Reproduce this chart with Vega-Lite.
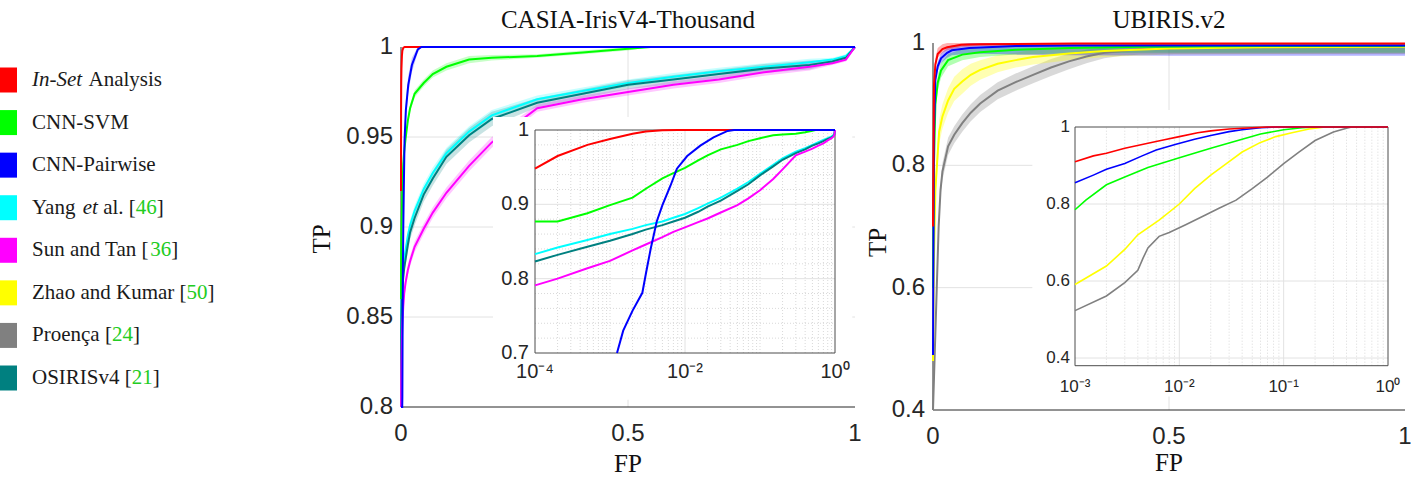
{
  "$schema": "https://vega.github.io/schema/vega-lite/v6.json",
  "width": 1411,
  "height": 480,
  "autosize": {"type": "none"},
  "padding": 0,
  "background": "white",
  "config": {"view": {"stroke": null}, "font": "Liberation Sans", "axis": {"disable": true}},
  "datasets": {
    "legendRows": [
      {"k": 1, "m": "I"}, {"k": 2, "m": "S"}, {"k": 3, "m": "P"}, {"k": 4, "m": "Y"},
      {"k": 5, "m": "T"}, {"k": 6, "m": "Z"}, {"k": 7, "m": "R"}, {"k": 8, "m": "O"}
    ],
    "casia": [
      {"m":"Y","fp":0,"tp":0.75,"lo":0.747,"hi":0.753},
      {"m":"Y","fp":1e-4,"tp":0.833,"lo":0.83,"hi":0.836},
      {"m":"Y","fp":2e-4,"tp":0.842,"lo":0.839,"hi":0.845},
      {"m":"Y","fp":5e-4,"tp":0.852,"lo":0.849,"hi":0.855},
      {"m":"Y","fp":1e-3,"tp":0.86,"lo":0.857,"hi":0.863},
      {"m":"Y","fp":2e-3,"tp":0.867,"lo":0.864,"hi":0.87},
      {"m":"Y","fp":3e-3,"tp":0.872,"lo":0.869,"hi":0.875},
      {"m":"Y","fp":5e-3,"tp":0.877,"lo":0.874,"hi":0.88},
      {"m":"Y","fp":7e-3,"tp":0.882,"lo":0.879,"hi":0.885},
      {"m":"Y","fp":0.01,"tp":0.887,"lo":0.884,"hi":0.89},
      {"m":"Y","fp":0.015,"tp":0.895,"lo":0.892,"hi":0.898},
      {"m":"Y","fp":0.02,"tp":0.901,"lo":0.898,"hi":0.904},
      {"m":"Y","fp":0.03,"tp":0.909,"lo":0.906,"hi":0.912},
      {"m":"Y","fp":0.05,"tp":0.921,"lo":0.918,"hi":0.924},
      {"m":"Y","fp":0.07,"tp":0.93,"lo":0.927,"hi":0.933},
      {"m":"Y","fp":0.1,"tp":0.941,"lo":0.938,"hi":0.944},
      {"m":"Y","fp":0.15,"tp":0.953,"lo":0.95,"hi":0.956},
      {"m":"Y","fp":0.2,"tp":0.962,"lo":0.959,"hi":0.965},
      {"m":"Y","fp":0.3,"tp":0.971,"lo":0.969,"hi":0.973},
      {"m":"Y","fp":0.4,"tp":0.9755,"lo":0.9735,"hi":0.9775},
      {"m":"Y","fp":0.5,"tp":0.98,"lo":0.978,"hi":0.982},
      {"m":"Y","fp":0.6,"tp":0.9835,"lo":0.9815,"hi":0.9855},
      {"m":"Y","fp":0.7,"tp":0.9865,"lo":0.9845,"hi":0.9885},
      {"m":"Y","fp":0.8,"tp":0.989,"lo":0.987,"hi":0.991},
      {"m":"Y","fp":0.9,"tp":0.9915,"lo":0.9895,"hi":0.9935},
      {"m":"Y","fp":0.95,"tp":0.993,"lo":0.992,"hi":0.994},
      {"m":"Y","fp":0.98,"tp":0.995,"lo":0.994,"hi":0.996},
      {"m":"Y","fp":1,"tp":1,"lo":1,"hi":1},

      {"m":"O","fp":0,"tp":0.75,"lo":0.746,"hi":0.754},
      {"m":"O","fp":1e-4,"tp":0.823,"lo":0.819,"hi":0.827},
      {"m":"O","fp":2e-4,"tp":0.832,"lo":0.828,"hi":0.836},
      {"m":"O","fp":5e-4,"tp":0.843,"lo":0.839,"hi":0.847},
      {"m":"O","fp":1e-3,"tp":0.851,"lo":0.847,"hi":0.855},
      {"m":"O","fp":2e-3,"tp":0.86,"lo":0.856,"hi":0.864},
      {"m":"O","fp":3e-3,"tp":0.866,"lo":0.862,"hi":0.87},
      {"m":"O","fp":5e-3,"tp":0.872,"lo":0.868,"hi":0.876},
      {"m":"O","fp":7e-3,"tp":0.877,"lo":0.873,"hi":0.881},
      {"m":"O","fp":0.01,"tp":0.882,"lo":0.878,"hi":0.886},
      {"m":"O","fp":0.015,"tp":0.89,"lo":0.886,"hi":0.894},
      {"m":"O","fp":0.02,"tp":0.897,"lo":0.893,"hi":0.901},
      {"m":"O","fp":0.03,"tp":0.905,"lo":0.901,"hi":0.909},
      {"m":"O","fp":0.05,"tp":0.918,"lo":0.914,"hi":0.922},
      {"m":"O","fp":0.07,"tp":0.927,"lo":0.923,"hi":0.931},
      {"m":"O","fp":0.1,"tp":0.939,"lo":0.935,"hi":0.943},
      {"m":"O","fp":0.15,"tp":0.951,"lo":0.947,"hi":0.955},
      {"m":"O","fp":0.2,"tp":0.96,"lo":0.956,"hi":0.964},
      {"m":"O","fp":0.3,"tp":0.969,"lo":0.9665,"hi":0.9715},
      {"m":"O","fp":0.4,"tp":0.974,"lo":0.9715,"hi":0.9765},
      {"m":"O","fp":0.5,"tp":0.979,"lo":0.9765,"hi":0.9815},
      {"m":"O","fp":0.6,"tp":0.982,"lo":0.9795,"hi":0.9845},
      {"m":"O","fp":0.7,"tp":0.985,"lo":0.9825,"hi":0.9875},
      {"m":"O","fp":0.8,"tp":0.988,"lo":0.9855,"hi":0.9905},
      {"m":"O","fp":0.9,"tp":0.99,"lo":0.9875,"hi":0.9925},
      {"m":"O","fp":0.95,"tp":0.992,"lo":0.991,"hi":0.993},
      {"m":"O","fp":0.98,"tp":0.994,"lo":0.993,"hi":0.995},
      {"m":"O","fp":1,"tp":1,"lo":1,"hi":1},

      {"m":"T","fp":0,"tp":0.7,"lo":0.697,"hi":0.703},
      {"m":"T","fp":1e-4,"tp":0.791,"lo":0.788,"hi":0.794},
      {"m":"T","fp":2e-4,"tp":0.8,"lo":0.797,"hi":0.803},
      {"m":"T","fp":5e-4,"tp":0.814,"lo":0.811,"hi":0.817},
      {"m":"T","fp":1e-3,"tp":0.824,"lo":0.821,"hi":0.827},
      {"m":"T","fp":2e-3,"tp":0.838,"lo":0.835,"hi":0.841},
      {"m":"T","fp":3e-3,"tp":0.846,"lo":0.843,"hi":0.849},
      {"m":"T","fp":5e-3,"tp":0.856,"lo":0.853,"hi":0.859},
      {"m":"T","fp":7e-3,"tp":0.863,"lo":0.86,"hi":0.866},
      {"m":"T","fp":0.01,"tp":0.869,"lo":0.866,"hi":0.872},
      {"m":"T","fp":0.015,"tp":0.876,"lo":0.873,"hi":0.879},
      {"m":"T","fp":0.02,"tp":0.881,"lo":0.878,"hi":0.884},
      {"m":"T","fp":0.03,"tp":0.889,"lo":0.886,"hi":0.892},
      {"m":"T","fp":0.05,"tp":0.899,"lo":0.896,"hi":0.902},
      {"m":"T","fp":0.07,"tp":0.908,"lo":0.905,"hi":0.911},
      {"m":"T","fp":0.1,"tp":0.919,"lo":0.916,"hi":0.922},
      {"m":"T","fp":0.15,"tp":0.934,"lo":0.931,"hi":0.937},
      {"m":"T","fp":0.2,"tp":0.947,"lo":0.944,"hi":0.95},
      {"m":"T","fp":0.3,"tp":0.966,"lo":0.964,"hi":0.968},
      {"m":"T","fp":0.4,"tp":0.971,"lo":0.969,"hi":0.973},
      {"m":"T","fp":0.5,"tp":0.975,"lo":0.973,"hi":0.977},
      {"m":"T","fp":0.6,"tp":0.979,"lo":0.977,"hi":0.981},
      {"m":"T","fp":0.7,"tp":0.982,"lo":0.98,"hi":0.984},
      {"m":"T","fp":0.8,"tp":0.986,"lo":0.984,"hi":0.988},
      {"m":"T","fp":0.9,"tp":0.989,"lo":0.987,"hi":0.991},
      {"m":"T","fp":0.95,"tp":0.991,"lo":0.99,"hi":0.992},
      {"m":"T","fp":0.98,"tp":0.993,"lo":0.992,"hi":0.994},
      {"m":"T","fp":1,"tp":1,"lo":1,"hi":1},

      {"m":"S","fp":0,"tp":0.86,"lo":0.858,"hi":0.862},
      {"m":"S","fp":1e-4,"tp":0.877,"lo":0.875,"hi":0.879},
      {"m":"S","fp":2e-4,"tp":0.877,"lo":0.875,"hi":0.879},
      {"m":"S","fp":5e-4,"tp":0.888,"lo":0.886,"hi":0.89},
      {"m":"S","fp":1e-3,"tp":0.899,"lo":0.897,"hi":0.901},
      {"m":"S","fp":2e-3,"tp":0.909,"lo":0.907,"hi":0.911},
      {"m":"S","fp":3e-3,"tp":0.921,"lo":0.919,"hi":0.923},
      {"m":"S","fp":5e-3,"tp":0.935,"lo":0.933,"hi":0.937},
      {"m":"S","fp":7e-3,"tp":0.942,"lo":0.94,"hi":0.944},
      {"m":"S","fp":0.01,"tp":0.949,"lo":0.947,"hi":0.951},
      {"m":"S","fp":0.015,"tp":0.959,"lo":0.957,"hi":0.961},
      {"m":"S","fp":0.02,"tp":0.966,"lo":0.964,"hi":0.968},
      {"m":"S","fp":0.03,"tp":0.974,"lo":0.972,"hi":0.976},
      {"m":"S","fp":0.05,"tp":0.98,"lo":0.978,"hi":0.982},
      {"m":"S","fp":0.07,"tp":0.985,"lo":0.983,"hi":0.987},
      {"m":"S","fp":0.1,"tp":0.989,"lo":0.987,"hi":0.991},
      {"m":"S","fp":0.15,"tp":0.993,"lo":0.991,"hi":0.995},
      {"m":"S","fp":0.2,"tp":0.994,"lo":0.9925,"hi":0.9955},
      {"m":"S","fp":0.3,"tp":0.995,"lo":0.994,"hi":0.996},
      {"m":"S","fp":0.4,"tp":0.997,"lo":0.996,"hi":0.998},
      {"m":"S","fp":0.5,"tp":0.999,"lo":0.998,"hi":1},
      {"m":"S","fp":0.55,"tp":1,"lo":1,"hi":1},
      {"m":"S","fp":1,"tp":1,"lo":1,"hi":1},

      {"m":"I","fp":0,"tp":0.92,"lo":0.91,"hi":0.93},
      {"m":"I","fp":1e-4,"tp":0.948,"lo":0.94,"hi":0.956},
      {"m":"I","fp":2e-4,"tp":0.965,"lo":0.958,"hi":0.972},
      {"m":"I","fp":5e-4,"tp":0.98,"lo":0.975,"hi":0.985},
      {"m":"I","fp":1e-3,"tp":0.988,"lo":0.984,"hi":0.992},
      {"m":"I","fp":2e-3,"tp":0.995,"lo":0.992,"hi":0.998},
      {"m":"I","fp":3e-3,"tp":0.998,"lo":0.996,"hi":1},
      {"m":"I","fp":5e-3,"tp":0.9995,"lo":0.999,"hi":1},
      {"m":"I","fp":8e-3,"tp":1,"lo":1,"hi":1},
      {"m":"I","fp":1,"tp":1,"lo":1,"hi":1},

      {"m":"P","fp":0,"tp":0.45,"lo":0.44,"hi":0.46},
      {"m":"P","fp":1e-4,"tp":0.5,"lo":0.49,"hi":0.51},
      {"m":"P","fp":5e-4,"tp":0.62,"lo":0.61,"hi":0.63},
      {"m":"P","fp":1.24e-3,"tp":0.7,"lo":0.69,"hi":0.71},
      {"m":"P","fp":1.5e-3,"tp":0.73,"lo":0.72,"hi":0.74},
      {"m":"P","fp":2e-3,"tp":0.757,"lo":0.747,"hi":0.767},
      {"m":"P","fp":2.7e-3,"tp":0.781,"lo":0.771,"hi":0.791},
      {"m":"P","fp":3e-3,"tp":0.806,"lo":0.796,"hi":0.816},
      {"m":"P","fp":3.5e-3,"tp":0.841,"lo":0.831,"hi":0.851},
      {"m":"P","fp":4.2e-3,"tp":0.877,"lo":0.867,"hi":0.887},
      {"m":"P","fp":5e-3,"tp":0.899,"lo":0.889,"hi":0.909},
      {"m":"P","fp":6.4e-3,"tp":0.925,"lo":0.917,"hi":0.933},
      {"m":"P","fp":7.8e-3,"tp":0.948,"lo":0.941,"hi":0.955},
      {"m":"P","fp":0.0107,"tp":0.965,"lo":0.959,"hi":0.971},
      {"m":"P","fp":0.016,"tp":0.979,"lo":0.974,"hi":0.984},
      {"m":"P","fp":0.024,"tp":0.99,"lo":0.986,"hi":0.994},
      {"m":"P","fp":0.037,"tp":0.9987,"lo":0.997,"hi":1},
      {"m":"P","fp":0.045,"tp":1,"lo":1,"hi":1},
      {"m":"P","fp":1,"tp":1,"lo":1,"hi":1}
    ],
    "ubMain": [
      {"m":"R","fp":0,"tp":0.4,"lo":0.39,"hi":0.41},
      {"m":"R","fp":0.004,"tp":0.5,"lo":0.49,"hi":0.51},
      {"m":"R","fp":0.008,"tp":0.6,"lo":0.59,"hi":0.61},
      {"m":"R","fp":0.012,"tp":0.7,"lo":0.69,"hi":0.71},
      {"m":"R","fp":0.016,"tp":0.76,"lo":0.75,"hi":0.77},
      {"m":"R","fp":0.02,"tp":0.79,"lo":0.776,"hi":0.804},
      {"m":"R","fp":0.032,"tp":0.831,"lo":0.817,"hi":0.845},
      {"m":"R","fp":0.045,"tp":0.85,"lo":0.836,"hi":0.864},
      {"m":"R","fp":0.062,"tp":0.869,"lo":0.855,"hi":0.883},
      {"m":"R","fp":0.08,"tp":0.886,"lo":0.872,"hi":0.9},
      {"m":"R","fp":0.1,"tp":0.901,"lo":0.887,"hi":0.915},
      {"m":"R","fp":0.137,"tp":0.922,"lo":0.908,"hi":0.936},
      {"m":"R","fp":0.175,"tp":0.936,"lo":0.922,"hi":0.95},
      {"m":"R","fp":0.212,"tp":0.948,"lo":0.934,"hi":0.962},
      {"m":"R","fp":0.25,"tp":0.96,"lo":0.946,"hi":0.974},
      {"m":"R","fp":0.288,"tp":0.97,"lo":0.957,"hi":0.983},
      {"m":"R","fp":0.325,"tp":0.978,"lo":0.967,"hi":0.989},
      {"m":"R","fp":0.363,"tp":0.984,"lo":0.975,"hi":0.993},
      {"m":"R","fp":0.4,"tp":0.987,"lo":0.979,"hi":0.995},
      {"m":"R","fp":0.44,"tp":0.99,"lo":0.981,"hi":0.998},
      {"m":"R","fp":0.513,"tp":0.992,"lo":0.982,"hi":1},
      {"m":"R","fp":0.7,"tp":0.993,"lo":0.982,"hi":1},
      {"m":"R","fp":1,"tp":0.994,"lo":0.982,"hi":1},

      {"m":"Z","fp":0,"tp":0.48,"lo":0.47,"hi":0.49},
      {"m":"Z","fp":0.002,"tp":0.65,"lo":0.63,"hi":0.67},
      {"m":"Z","fp":0.005,"tp":0.76,"lo":0.74,"hi":0.78},
      {"m":"Z","fp":0.01,"tp":0.82,"lo":0.8,"hi":0.84},
      {"m":"Z","fp":0.013,"tp":0.855,"lo":0.835,"hi":0.875},
      {"m":"Z","fp":0.02,"tp":0.88,"lo":0.86,"hi":0.9},
      {"m":"Z","fp":0.032,"tp":0.906,"lo":0.886,"hi":0.926},
      {"m":"Z","fp":0.045,"tp":0.925,"lo":0.905,"hi":0.945},
      {"m":"Z","fp":0.062,"tp":0.937,"lo":0.917,"hi":0.957},
      {"m":"Z","fp":0.08,"tp":0.948,"lo":0.93,"hi":0.966},
      {"m":"Z","fp":0.1,"tp":0.956,"lo":0.94,"hi":0.972},
      {"m":"Z","fp":0.137,"tp":0.966,"lo":0.952,"hi":0.98},
      {"m":"Z","fp":0.175,"tp":0.972,"lo":0.96,"hi":0.984},
      {"m":"Z","fp":0.212,"tp":0.977,"lo":0.965,"hi":0.989},
      {"m":"Z","fp":0.288,"tp":0.983,"lo":0.972,"hi":0.994},
      {"m":"Z","fp":0.363,"tp":0.987,"lo":0.977,"hi":0.997},
      {"m":"Z","fp":0.5,"tp":0.991,"lo":0.981,"hi":1},
      {"m":"Z","fp":0.7,"tp":0.993,"lo":0.982,"hi":1},
      {"m":"Z","fp":1,"tp":0.994,"lo":0.983,"hi":1},

      {"m":"S","fp":0,"tp":0.6,"lo":0.59,"hi":0.61},
      {"m":"S","fp":0.002,"tp":0.8,"lo":0.79,"hi":0.81},
      {"m":"S","fp":0.005,"tp":0.9,"lo":0.89,"hi":0.91},
      {"m":"S","fp":0.01,"tp":0.935,"lo":0.922,"hi":0.948},
      {"m":"S","fp":0.017,"tp":0.955,"lo":0.943,"hi":0.967},
      {"m":"S","fp":0.032,"tp":0.972,"lo":0.962,"hi":0.982},
      {"m":"S","fp":0.062,"tp":0.981,"lo":0.972,"hi":0.99},
      {"m":"S","fp":0.1,"tp":0.985,"lo":0.977,"hi":0.993},
      {"m":"S","fp":0.175,"tp":0.989,"lo":0.981,"hi":0.997},
      {"m":"S","fp":0.29,"tp":0.992,"lo":0.983,"hi":1},
      {"m":"S","fp":0.44,"tp":0.994,"lo":0.984,"hi":1},
      {"m":"S","fp":0.7,"tp":0.995,"lo":0.984,"hi":1},
      {"m":"S","fp":1,"tp":0.995,"lo":0.984,"hi":1},

      {"m":"P","fp":0,"tp":0.49,"lo":0.48,"hi":0.5},
      {"m":"P","fp":0.002,"tp":0.85,"lo":0.84,"hi":0.86},
      {"m":"P","fp":0.005,"tp":0.94,"lo":0.932,"hi":0.948},
      {"m":"P","fp":0.01,"tp":0.962,"lo":0.954,"hi":0.97},
      {"m":"P","fp":0.017,"tp":0.975,"lo":0.967,"hi":0.983},
      {"m":"P","fp":0.03,"tp":0.984,"lo":0.976,"hi":0.992},
      {"m":"P","fp":0.04,"tp":0.988,"lo":0.98,"hi":0.996},
      {"m":"P","fp":0.077,"tp":0.992,"lo":0.983,"hi":1},
      {"m":"P","fp":0.175,"tp":0.995,"lo":0.981,"hi":1},
      {"m":"P","fp":0.3,"tp":0.996,"lo":0.98,"hi":1},
      {"m":"P","fp":0.5,"tp":0.996,"lo":0.979,"hi":1},
      {"m":"P","fp":1,"tp":0.996,"lo":0.979,"hi":1},

      {"m":"I","fp":0,"tp":0.7,"lo":0.69,"hi":0.71},
      {"m":"I","fp":0.002,"tp":0.93,"lo":0.925,"hi":0.935},
      {"m":"I","fp":0.005,"tp":0.965,"lo":0.96,"hi":0.975},
      {"m":"I","fp":0.01,"tp":0.982,"lo":0.976,"hi":0.992},
      {"m":"I","fp":0.02,"tp":0.99,"lo":0.984,"hi":0.998},
      {"m":"I","fp":0.03,"tp":0.993,"lo":0.988,"hi":1},
      {"m":"I","fp":0.06,"tp":0.997,"lo":0.993,"hi":1},
      {"m":"I","fp":0.1,"tp":0.998,"lo":0.995,"hi":1},
      {"m":"I","fp":0.3,"tp":0.999,"lo":0.997,"hi":1},
      {"m":"I","fp":1,"tp":0.999,"lo":0.997,"hi":1}
    ],
    "ubInset": [
      {"m":"R","fp":0.001,"tp":0.523},{"m":"R","fp":0.002,"tp":0.561},{"m":"R","fp":0.003,"tp":0.596},
      {"m":"R","fp":0.004,"tp":0.628},{"m":"R","fp":0.0045,"tp":0.66},{"m":"R","fp":0.005,"tp":0.686},
      {"m":"R","fp":0.0064,"tp":0.716},{"m":"R","fp":0.008,"tp":0.726},{"m":"R","fp":0.0115,"tp":0.746},
      {"m":"R","fp":0.018,"tp":0.772},{"m":"R","fp":0.024,"tp":0.789},{"m":"R","fp":0.035,"tp":0.81},
      {"m":"R","fp":0.05,"tp":0.84},{"m":"R","fp":0.07,"tp":0.87},{"m":"R","fp":0.1,"tp":0.905},
      {"m":"R","fp":0.14,"tp":0.935},{"m":"R","fp":0.2,"tp":0.965},{"m":"R","fp":0.3,"tp":0.987},
      {"m":"R","fp":0.4,"tp":0.997},{"m":"R","fp":0.45,"tp":1},{"m":"R","fp":1,"tp":1},

      {"m":"Z","fp":0.001,"tp":0.591},{"m":"Z","fp":0.002,"tp":0.639},{"m":"Z","fp":0.003,"tp":0.682},
      {"m":"Z","fp":0.004,"tp":0.72},{"m":"Z","fp":0.0064,"tp":0.758},{"m":"Z","fp":0.01,"tp":0.8},
      {"m":"Z","fp":0.014,"tp":0.84},{"m":"Z","fp":0.02,"tp":0.875},{"m":"Z","fp":0.03,"tp":0.91},
      {"m":"Z","fp":0.04,"tp":0.935},{"m":"Z","fp":0.06,"tp":0.96},{"m":"Z","fp":0.084,"tp":0.975},
      {"m":"Z","fp":0.12,"tp":0.985},{"m":"Z","fp":0.175,"tp":0.995},{"m":"Z","fp":0.25,"tp":1},
      {"m":"Z","fp":1,"tp":1},

      {"m":"S","fp":0.001,"tp":0.785},{"m":"S","fp":0.00127,"tp":0.81},{"m":"S","fp":0.002,"tp":0.85},
      {"m":"S","fp":0.003,"tp":0.87},{"m":"S","fp":0.005,"tp":0.895},{"m":"S","fp":0.01,"tp":0.92},
      {"m":"S","fp":0.02,"tp":0.945},{"m":"S","fp":0.04,"tp":0.968},{"m":"S","fp":0.06,"tp":0.982},
      {"m":"S","fp":0.1,"tp":0.993},{"m":"S","fp":0.15,"tp":0.998},{"m":"S","fp":0.2,"tp":1},
      {"m":"S","fp":1,"tp":1},

      {"m":"P","fp":0.001,"tp":0.855},{"m":"P","fp":0.0015,"tp":0.875},{"m":"P","fp":0.002,"tp":0.89},
      {"m":"P","fp":0.003,"tp":0.905},{"m":"P","fp":0.0044,"tp":0.925},{"m":"P","fp":0.006,"tp":0.94},
      {"m":"P","fp":0.0093,"tp":0.955},{"m":"P","fp":0.014,"tp":0.968},{"m":"P","fp":0.02,"tp":0.978},
      {"m":"P","fp":0.03,"tp":0.988},{"m":"P","fp":0.04,"tp":0.993},{"m":"P","fp":0.06,"tp":0.998},
      {"m":"P","fp":0.086,"tp":1},{"m":"P","fp":1,"tp":1},

      {"m":"I","fp":0.001,"tp":0.91},{"m":"I","fp":0.0015,"tp":0.925},{"m":"I","fp":0.002,"tp":0.932},
      {"m":"I","fp":0.003,"tp":0.945},{"m":"I","fp":0.005,"tp":0.958},{"m":"I","fp":0.007,"tp":0.966},
      {"m":"I","fp":0.01,"tp":0.975},{"m":"I","fp":0.015,"tp":0.985},{"m":"I","fp":0.02,"tp":0.99},
      {"m":"I","fp":0.03,"tp":0.995},{"m":"I","fp":0.05,"tp":0.998},{"m":"I","fp":0.07,"tp":1},
      {"m":"I","fp":1,"tp":1}
    ],
    "casiaTicksX": [{"v": 0}, {"v": 0.5}, {"v": 1}],
    "casiaTicksY": [{"v": 0.8}, {"v": 0.85}, {"v": 0.9}, {"v": 0.95}, {"v": 1}],
    "ubTicksX": [{"v": 0}, {"v": 0.5}, {"v": 1}],
    "ubTicksY": [{"v": 0.4}, {"v": 0.6}, {"v": 0.8}, {"v": 1}],
    "ciTicksX": [{"v": 0.0001, "t": "10⁻⁴"}, {"v": 0.01, "t": "10⁻²"}, {"v": 1, "t": "10⁰"}],
    "ciTicksY": [{"v": 0.7}, {"v": 0.8}, {"v": 0.9}, {"v": 1}],
    "uiTicksX": [{"v": 0.001, "t": "10⁻³"}, {"v": 0.01, "t": "10⁻²"}, {"v": 0.1, "t": "10⁻¹"}, {"v": 1, "t": "10⁰"}],
    "uiTicksY": [{"v": 0.4}, {"v": 0.6}, {"v": 0.8}, {"v": 1}],
    "casiaGridX": [{"v": 0.5}],
    "casiaGridY": [{"v": 0.85}, {"v": 0.9}, {"v": 0.95}],
    "ubGridX": [{"v": 0.5}],
    "ubGridY": [{"v": 0.6}, {"v": 0.8}],
    "ciMajX": [{"v": 0.01}],
    "ciMajY": [{"v": 0.8}, {"v": 0.9}],
    "ciMinX": [
      {"v":2e-4},{"v":3e-4},{"v":4e-4},{"v":5e-4},{"v":6e-4},{"v":7e-4},{"v":8e-4},{"v":9e-4},{"v":1e-3},
      {"v":2e-3},{"v":3e-3},{"v":4e-3},{"v":5e-3},{"v":6e-3},{"v":7e-3},{"v":8e-3},{"v":9e-3},
      {"v":0.02},{"v":0.03},{"v":0.04},{"v":0.05},{"v":0.06},{"v":0.07},{"v":0.08},{"v":0.09},{"v":0.1},
      {"v":0.2},{"v":0.3},{"v":0.4},{"v":0.5},{"v":0.6},{"v":0.7},{"v":0.8},{"v":0.9}
    ],
    "ciMinY": [
      {"v":0.72},{"v":0.74},{"v":0.76},{"v":0.78},{"v":0.82},{"v":0.84},
      {"v":0.86},{"v":0.88},{"v":0.92},{"v":0.94},{"v":0.96},{"v":0.98}
    ],
    "uiMajX": [{"v": 0.01}, {"v": 0.1}],
    "uiMajY": [{"v": 0.4}, {"v": 0.6}, {"v": 0.8}],
    "uiMinX": [
      {"v":2e-3},{"v":3e-3},{"v":4e-3},{"v":5e-3},{"v":6e-3},{"v":7e-3},{"v":8e-3},{"v":9e-3},
      {"v":0.02},{"v":0.03},{"v":0.04},{"v":0.05},{"v":0.06},{"v":0.07},{"v":0.08},{"v":0.09},
      {"v":0.2},{"v":0.3},{"v":0.4},{"v":0.5},{"v":0.6},{"v":0.7},{"v":0.8},{"v":0.9}
    ]
  },
  "resolve": {
    "scale": {"x": "independent", "y": "independent"},
    "axis": {"x": "independent", "y": "independent"}
  },
  "layer": [
    {
      "layer": [
        {
          "data": {"name": "legendRows"},
          "mark": {"type": "point", "shape": "square", "filled": true, "size": 625, "opacity": 1},
          "encoding": {
            "x": {"datum": 0, "scale": {"domain": [0, 1], "range": [4.5, 32]}, "axis": null},
            "y": {"field": "k", "type": "quantitative", "scale": {"domain": [1, 8], "range": [80, 378], "zero": false, "nice": false}, "axis": null},
            "color": {"field": "m", "type": "nominal", "legend": null,
              "scale": {"domain": ["I","S","P","Y","T","Z","R","O"], "range": ["#ff0000","#00ff00","#0000ff","#00ffff","#ff00ff","#ffff00","#808080","#008080"]}}
          }
        },
        {
          "data": {"values": [
            {"k": 2, "t": "CNN-SVM"}, {"k": 3, "t": "CNN-Pairwise"}, {"k": 4, "t": "Yang"},
            {"k": 5, "t": "Sun and Tan ["}, {"k": 6, "t": "Zhao and Kumar ["}, {"k": 7, "t": "Proença ["}, {"k": 8, "t": "OSIRISv4 ["}
          ]},
          "mark": {"type": "text", "font": "Liberation Serif", "fontSize": 21, "align": "left", "baseline": "middle", "color": "#1a1a1a"},
          "encoding": {"x": {"datum": 1, "axis": null}, "y": {"field": "k", "type": "quantitative", "axis": null}, "text": {"field": "t"}}
        },
        {
          "data": {"values": [{"k": 1, "t": "In-Set"}]},
          "mark": {"type": "text", "font": "Liberation Serif", "fontStyle": "italic", "fontSize": 21, "align": "left", "baseline": "middle", "color": "#1a1a1a"},
          "encoding": {"x": {"datum": 1, "axis": null}, "y": {"field": "k", "type": "quantitative", "axis": null}, "text": {"field": "t"}}
        },
        {
          "data": {"values": [{"k": 1, "t": "Analysis"}]},
          "mark": {"type": "text", "font": "Liberation Serif", "fontSize": 21, "align": "left", "baseline": "middle", "color": "#1a1a1a", "dx": 56.5},
          "encoding": {"x": {"datum": 1, "axis": null}, "y": {"field": "k", "type": "quantitative", "axis": null}, "text": {"field": "t"}}
        },
        {
          "data": {"values": [{"k": 4, "t": "et"}]},
          "mark": {"type": "text", "font": "Liberation Serif", "fontStyle": "italic", "fontSize": 21, "align": "left", "baseline": "middle", "color": "#1a1a1a", "dx": 50.7},
          "encoding": {"x": {"datum": 1, "axis": null}, "y": {"field": "k", "type": "quantitative", "axis": null}, "text": {"field": "t"}}
        },
        {
          "data": {"values": [{"k": 4, "t": "al. ["}]},
          "mark": {"type": "text", "font": "Liberation Serif", "fontSize": 21, "align": "left", "baseline": "middle", "color": "#1a1a1a", "dx": 71.2},
          "encoding": {"x": {"datum": 1, "axis": null}, "y": {"field": "k", "type": "quantitative", "axis": null}, "text": {"field": "t"}}
        },
        {
          "data": {"values": [{"k": 4, "t": "46"}]},
          "mark": {"type": "text", "font": "Liberation Serif", "fontSize": 21, "align": "left", "baseline": "middle", "color": "#22cc22", "dx": 103.8},
          "encoding": {"x": {"datum": 1, "axis": null}, "y": {"field": "k", "type": "quantitative", "axis": null}, "text": {"field": "t"}}
        },
        {
          "data": {"values": [{"k": 4, "t": "]"}]},
          "mark": {"type": "text", "font": "Liberation Serif", "fontSize": 21, "align": "left", "baseline": "middle", "color": "#1a1a1a", "dx": 124.8},
          "encoding": {"x": {"datum": 1, "axis": null}, "y": {"field": "k", "type": "quantitative", "axis": null}, "text": {"field": "t"}}
        },
        {
          "data": {"values": [{"k": 5, "t": "36"}]},
          "mark": {"type": "text", "font": "Liberation Serif", "fontSize": 21, "align": "left", "baseline": "middle", "color": "#22cc22", "dx": 118.3},
          "encoding": {"x": {"datum": 1, "axis": null}, "y": {"field": "k", "type": "quantitative", "axis": null}, "text": {"field": "t"}}
        },
        {
          "data": {"values": [{"k": 5, "t": "]"}]},
          "mark": {"type": "text", "font": "Liberation Serif", "fontSize": 21, "align": "left", "baseline": "middle", "color": "#1a1a1a", "dx": 139.3},
          "encoding": {"x": {"datum": 1, "axis": null}, "y": {"field": "k", "type": "quantitative", "axis": null}, "text": {"field": "t"}}
        },
        {
          "data": {"values": [{"k": 6, "t": "50"}]},
          "mark": {"type": "text", "font": "Liberation Serif", "fontSize": 21, "align": "left", "baseline": "middle", "color": "#22cc22", "dx": 154.5},
          "encoding": {"x": {"datum": 1, "axis": null}, "y": {"field": "k", "type": "quantitative", "axis": null}, "text": {"field": "t"}}
        },
        {
          "data": {"values": [{"k": 6, "t": "]"}]},
          "mark": {"type": "text", "font": "Liberation Serif", "fontSize": 21, "align": "left", "baseline": "middle", "color": "#1a1a1a", "dx": 175.5},
          "encoding": {"x": {"datum": 1, "axis": null}, "y": {"field": "k", "type": "quantitative", "axis": null}, "text": {"field": "t"}}
        },
        {
          "data": {"values": [{"k": 7, "t": "24"}]},
          "mark": {"type": "text", "font": "Liberation Serif", "fontSize": 21, "align": "left", "baseline": "middle", "color": "#22cc22", "dx": 79.9},
          "encoding": {"x": {"datum": 1, "axis": null}, "y": {"field": "k", "type": "quantitative", "axis": null}, "text": {"field": "t"}}
        },
        {
          "data": {"values": [{"k": 7, "t": "]"}]},
          "mark": {"type": "text", "font": "Liberation Serif", "fontSize": 21, "align": "left", "baseline": "middle", "color": "#1a1a1a", "dx": 100.9},
          "encoding": {"x": {"datum": 1, "axis": null}, "y": {"field": "k", "type": "quantitative", "axis": null}, "text": {"field": "t"}}
        },
        {
          "data": {"values": [{"k": 8, "t": "21"}]},
          "mark": {"type": "text", "font": "Liberation Serif", "fontSize": 21, "align": "left", "baseline": "middle", "color": "#22cc22", "dx": 99.8},
          "encoding": {"x": {"datum": 1, "axis": null}, "y": {"field": "k", "type": "quantitative", "axis": null}, "text": {"field": "t"}}
        },
        {
          "data": {"values": [{"k": 8, "t": "]"}]},
          "mark": {"type": "text", "font": "Liberation Serif", "fontSize": 21, "align": "left", "baseline": "middle", "color": "#1a1a1a", "dx": 120.8},
          "encoding": {"x": {"datum": 1, "axis": null}, "y": {"field": "k", "type": "quantitative", "axis": null}, "text": {"field": "t"}}
        }
      ]
    },
    {
      "layer": [
        {
          "data": {"name": "casiaGridX"},
          "mark": {"type": "rule", "color": "#e2e2e2", "strokeWidth": 1},
          "encoding": {
            "x": {"field": "v", "type": "quantitative", "scale": {"domain": [0, 1], "range": [401, 855], "nice": false, "zero": false, "clamp": true}, "axis": null},
            "y": {"datum": 0.8, "scale": {"domain": [0.8, 1], "range": [407, 47], "nice": false, "zero": false, "clamp": true}, "axis": null},
            "y2": {"datum": 1}
          }
        },
        {
          "data": {"name": "casiaGridY"},
          "mark": {"type": "rule", "color": "#e2e2e2", "strokeWidth": 1},
          "encoding": {
            "y": {"field": "v", "type": "quantitative", "axis": null},
            "x": {"datum": 0, "axis": null},
            "x2": {"datum": 1}
          }
        },
        {
          "data": {"values": [{}]},
          "mark": {"type": "rule", "color": "#262626", "strokeWidth": 1},
          "encoding": {"x": {"datum": 0, "axis": null}, "x2": {"datum": 1}, "y": {"datum": 0.8, "axis": null}}
        },
        {
          "data": {"values": [{}]},
          "mark": {"type": "rule", "color": "#262626", "strokeWidth": 1},
          "encoding": {"x": {"datum": 0, "axis": null}, "y": {"datum": 0.8, "axis": null}, "y2": {"datum": 1}}
        },
        {
          "data": {"name": "casiaTicksX"},
          "mark": {"type": "text", "font": "Liberation Sans", "fontSize": 24, "color": "#262626", "align": "center", "baseline": "top", "dy": 15},
          "encoding": {"x": {"field": "v", "type": "quantitative", "axis": null}, "y": {"datum": 0.8, "axis": null}, "text": {"field": "v", "type": "quantitative", "format": "~g"}}
        },
        {
          "data": {"name": "casiaTicksY"},
          "mark": {"type": "text", "font": "Liberation Sans", "fontSize": 24, "color": "#262626", "align": "right", "baseline": "middle", "dx": -8},
          "encoding": {"x": {"datum": 0, "axis": null}, "y": {"field": "v", "type": "quantitative", "axis": null}, "text": {"field": "v", "type": "quantitative", "format": "~g"}}
        },
        {
          "data": {"values": [{"t": "FP"}]},
          "mark": {"type": "text", "font": "Liberation Serif", "fontSize": 25, "color": "#111", "align": "center", "baseline": "top", "dy": 45},
          "encoding": {"x": {"datum": 0.5, "axis": null}, "y": {"datum": 0.8, "axis": null}, "text": {"field": "t"}}
        },
        {
          "data": {"values": [{"t": "TP"}]},
          "mark": {"type": "text", "font": "Liberation Serif", "fontSize": 25, "color": "#111", "align": "center", "baseline": "middle", "angle": 270, "dy": -79, "dx": -12},
          "encoding": {"x": {"datum": 0, "axis": null}, "y": {"datum": 0.9, "axis": null}, "text": {"field": "t"}}
        },
        {
          "data": {"name": "casia"},
          "mark": {"type": "area", "opacity": 0.22},
          "encoding": {
            "x": {"field": "fp", "type": "quantitative", "axis": null},
            "y": {"field": "lo", "type": "quantitative", "axis": null},
            "y2": {"field": "hi"},
            "color": {"field": "m", "type": "nominal", "legend": null}
          }
        },
        {
          "data": {"name": "casia"},
          "mark": {"type": "line", "strokeWidth": 2},
          "encoding": {
            "x": {"field": "fp", "type": "quantitative", "axis": null},
            "y": {"field": "tp", "type": "quantitative", "axis": null},
            "color": {"field": "m", "type": "nominal", "legend": null}
          }
        },
        {
          "data": {"values": [{"t": "CASIA-IrisV4-Thousand"}]},
          "mark": {"type": "text", "font": "Liberation Serif", "fontSize": 25, "baseline": "alphabetic", "align": "center", "dy": -19, "color": "#111"},
          "encoding": {"x": {"datum": 0.5, "axis": null}, "y": {"datum": 1, "axis": null}, "text": {"field": "t"}}
        }
      ]
    },
    {
      "layer": [
        {
          "data": {"values": [{}]},
          "mark": {"type": "rect", "fill": "white"},
          "encoding": {
            "x": {"datum": 2.75e-5, "scale": {"type": "log", "domain": [0.0001, 1], "range": [535, 835], "nice": false}, "axis": null},
            "x2": {"datum": 1.7},
            "y": {"datum": 0.637, "scale": {"domain": [0.7, 1], "range": [353, 130], "nice": false, "zero": false}, "axis": null},
            "y2": {"datum": 1.0175}
          }
        },
        {
          "data": {"name": "ciMinX"},
          "mark": {"type": "rule", "color": "#d9d9d9", "strokeDash": [1, 2], "strokeWidth": 1},
          "encoding": {"x": {"field": "v", "type": "quantitative", "axis": null}, "y": {"datum": 0.7, "axis": null}, "y2": {"datum": 1}}
        },
        {
          "data": {"name": "ciMinY"},
          "mark": {"type": "rule", "color": "#d9d9d9", "strokeDash": [1, 2], "strokeWidth": 1},
          "encoding": {"y": {"field": "v", "type": "quantitative", "axis": null}, "x": {"datum": 0.0001, "axis": null}, "x2": {"datum": 1}}
        },
        {
          "data": {"name": "ciMajX"},
          "mark": {"type": "rule", "color": "#e2e2e2", "strokeWidth": 1},
          "encoding": {"x": {"field": "v", "type": "quantitative", "axis": null}, "y": {"datum": 0.7, "axis": null}, "y2": {"datum": 1}}
        },
        {
          "data": {"name": "ciMajY"},
          "mark": {"type": "rule", "color": "#e2e2e2", "strokeWidth": 1},
          "encoding": {"y": {"field": "v", "type": "quantitative", "axis": null}, "x": {"datum": 0.0001, "axis": null}, "x2": {"datum": 1}}
        },
        {
          "data": {"values": [{}]},
          "mark": {"type": "rect", "filled": false, "stroke": "#4d4d4d", "strokeWidth": 1},
          "encoding": {"x": {"datum": 0.0001, "axis": null}, "x2": {"datum": 1}, "y": {"datum": 0.7, "axis": null}, "y2": {"datum": 1}}
        },
        {
          "data": {"name": "ciTicksX"},
          "mark": {"type": "text", "font": "Liberation Sans", "fontSize": 20, "color": "#262626", "align": "center", "baseline": "top", "dy": 9},
          "encoding": {"x": {"field": "v", "type": "quantitative", "axis": null}, "y": {"datum": 0.7, "axis": null}, "text": {"field": "t"}}
        },
        {
          "data": {"name": "ciTicksY"},
          "mark": {"type": "text", "font": "Liberation Sans", "fontSize": 20, "color": "#262626", "align": "right", "baseline": "middle", "dx": -6},
          "encoding": {"x": {"datum": 0.0001, "axis": null}, "y": {"field": "v", "type": "quantitative", "axis": null}, "text": {"field": "v", "type": "quantitative", "format": "~g"}}
        },
        {
          "data": {"name": "casia"},
          "transform": [{"filter": "datum.fp >= 0.0001 && datum.tp >= 0.7"}],
          "mark": {"type": "line", "strokeWidth": 2},
          "encoding": {
            "x": {"field": "fp", "type": "quantitative", "axis": null},
            "y": {"field": "tp", "type": "quantitative", "axis": null},
            "color": {"field": "m", "type": "nominal", "legend": null}
          }
        }
      ]
    },
    {
      "layer": [
        {
          "data": {"name": "ubGridX"},
          "mark": {"type": "rule", "color": "#e2e2e2", "strokeWidth": 1},
          "encoding": {
            "x": {"field": "v", "type": "quantitative", "scale": {"domain": [0, 1], "range": [933, 1405], "nice": false, "zero": false, "clamp": true}, "axis": null},
            "y": {"datum": 0.4, "scale": {"domain": [0.4, 1], "range": [410, 43], "nice": false, "zero": false, "clamp": true}, "axis": null},
            "y2": {"datum": 1}
          }
        },
        {
          "data": {"name": "ubGridY"},
          "mark": {"type": "rule", "color": "#e2e2e2", "strokeWidth": 1},
          "encoding": {"y": {"field": "v", "type": "quantitative", "axis": null}, "x": {"datum": 0, "axis": null}, "x2": {"datum": 1}}
        },
        {
          "data": {"values": [{}]},
          "mark": {"type": "rule", "color": "#262626", "strokeWidth": 1},
          "encoding": {"x": {"datum": 0, "axis": null}, "x2": {"datum": 1}, "y": {"datum": 0.4, "axis": null}}
        },
        {
          "data": {"values": [{}]},
          "mark": {"type": "rule", "color": "#262626", "strokeWidth": 1},
          "encoding": {"x": {"datum": 0, "axis": null}, "y": {"datum": 0.4, "axis": null}, "y2": {"datum": 1}}
        },
        {
          "data": {"name": "ubTicksX"},
          "mark": {"type": "text", "font": "Liberation Sans", "fontSize": 24, "color": "#262626", "align": "center", "baseline": "top", "dy": 15},
          "encoding": {"x": {"field": "v", "type": "quantitative", "axis": null}, "y": {"datum": 0.4, "axis": null}, "text": {"field": "v", "type": "quantitative", "format": "~g"}}
        },
        {
          "data": {"name": "ubTicksY"},
          "mark": {"type": "text", "font": "Liberation Sans", "fontSize": 24, "color": "#262626", "align": "right", "baseline": "middle", "dx": -8},
          "encoding": {"x": {"datum": 0, "axis": null}, "y": {"field": "v", "type": "quantitative", "axis": null}, "text": {"field": "v", "type": "quantitative", "format": "~g"}}
        },
        {
          "data": {"values": [{"t": "FP"}]},
          "mark": {"type": "text", "font": "Liberation Serif", "fontSize": 25, "color": "#111", "align": "center", "baseline": "top", "dy": 41},
          "encoding": {"x": {"datum": 0.5, "axis": null}, "y": {"datum": 0.4, "axis": null}, "text": {"field": "t"}}
        },
        {
          "data": {"values": [{"t": "TP"}]},
          "mark": {"type": "text", "font": "Liberation Serif", "fontSize": 25, "color": "#111", "align": "center", "baseline": "middle", "angle": 270, "dy": -55, "dx": -16},
          "encoding": {"x": {"datum": 0, "axis": null}, "y": {"datum": 0.7, "axis": null}, "text": {"field": "t"}}
        },
        {
          "data": {"name": "ubMain"},
          "mark": {"type": "area", "opacity": 0.3},
          "encoding": {
            "x": {"field": "fp", "type": "quantitative", "axis": null},
            "y": {"field": "lo", "type": "quantitative", "axis": null},
            "y2": {"field": "hi"},
            "color": {"field": "m", "type": "nominal", "legend": null}
          }
        },
        {
          "data": {"name": "ubMain"},
          "mark": {"type": "line", "strokeWidth": 2},
          "encoding": {
            "x": {"field": "fp", "type": "quantitative", "axis": null},
            "y": {"field": "tp", "type": "quantitative", "axis": null},
            "color": {"field": "m", "type": "nominal", "legend": null}
          }
        },
        {
          "data": {"values": [{"t": "UBIRIS.v2"}]},
          "mark": {"type": "text", "font": "Liberation Serif", "fontSize": 25, "baseline": "alphabetic", "align": "center", "dy": -15, "color": "#111"},
          "encoding": {"x": {"datum": 0.5, "axis": null}, "y": {"datum": 1, "axis": null}, "text": {"field": "t"}}
        }
      ]
    },
    {
      "layer": [
        {
          "data": {"values": [{}]},
          "mark": {"type": "rect", "fill": "white"},
          "encoding": {
            "x": {"datum": 3.9e-4, "scale": {"type": "log", "domain": [0.001, 1], "range": [1075, 1388], "nice": false}, "axis": null},
            "x2": {"datum": 1.46},
            "y": {"datum": 0.3, "scale": {"domain": [0.38, 1], "range": [365.7, 127], "nice": false, "zero": false}, "axis": null},
            "y2": {"datum": 1.044}
          }
        },
        {
          "data": {"name": "uiMinX"},
          "mark": {"type": "rule", "color": "#d9d9d9", "strokeDash": [1, 2], "strokeWidth": 1},
          "encoding": {"x": {"field": "v", "type": "quantitative", "axis": null}, "y": {"datum": 0.38, "axis": null}, "y2": {"datum": 1}}
        },
        {
          "data": {"name": "uiMajX"},
          "mark": {"type": "rule", "color": "#e2e2e2", "strokeWidth": 1},
          "encoding": {"x": {"field": "v", "type": "quantitative", "axis": null}, "y": {"datum": 0.38, "axis": null}, "y2": {"datum": 1}}
        },
        {
          "data": {"name": "uiMajY"},
          "mark": {"type": "rule", "color": "#e2e2e2", "strokeWidth": 1},
          "encoding": {"y": {"field": "v", "type": "quantitative", "axis": null}, "x": {"datum": 0.001, "axis": null}, "x2": {"datum": 1}}
        },
        {
          "data": {"values": [{}]},
          "mark": {"type": "rect", "filled": false, "stroke": "#4d4d4d", "strokeWidth": 1},
          "encoding": {"x": {"datum": 0.001, "axis": null}, "x2": {"datum": 1}, "y": {"datum": 0.38, "axis": null}, "y2": {"datum": 1}}
        },
        {
          "data": {"name": "uiTicksX"},
          "mark": {"type": "text", "font": "Liberation Sans", "fontSize": 17, "color": "#262626", "align": "center", "baseline": "top", "dy": 13},
          "encoding": {"x": {"field": "v", "type": "quantitative", "axis": null}, "y": {"datum": 0.38, "axis": null}, "text": {"field": "t"}}
        },
        {
          "data": {"name": "uiTicksY"},
          "mark": {"type": "text", "font": "Liberation Sans", "fontSize": 17, "color": "#262626", "align": "right", "baseline": "middle", "dx": -5},
          "encoding": {"x": {"datum": 0.001, "axis": null}, "y": {"field": "v", "type": "quantitative", "axis": null}, "text": {"field": "v", "type": "quantitative", "format": "~g"}}
        },
        {
          "data": {"name": "ubInset"},
          "mark": {"type": "line", "strokeWidth": 1.6},
          "encoding": {
            "x": {"field": "fp", "type": "quantitative", "axis": null},
            "y": {"field": "tp", "type": "quantitative", "axis": null},
            "color": {"field": "m", "type": "nominal", "legend": null}
          }
        }
      ]
    }
  ]
}
